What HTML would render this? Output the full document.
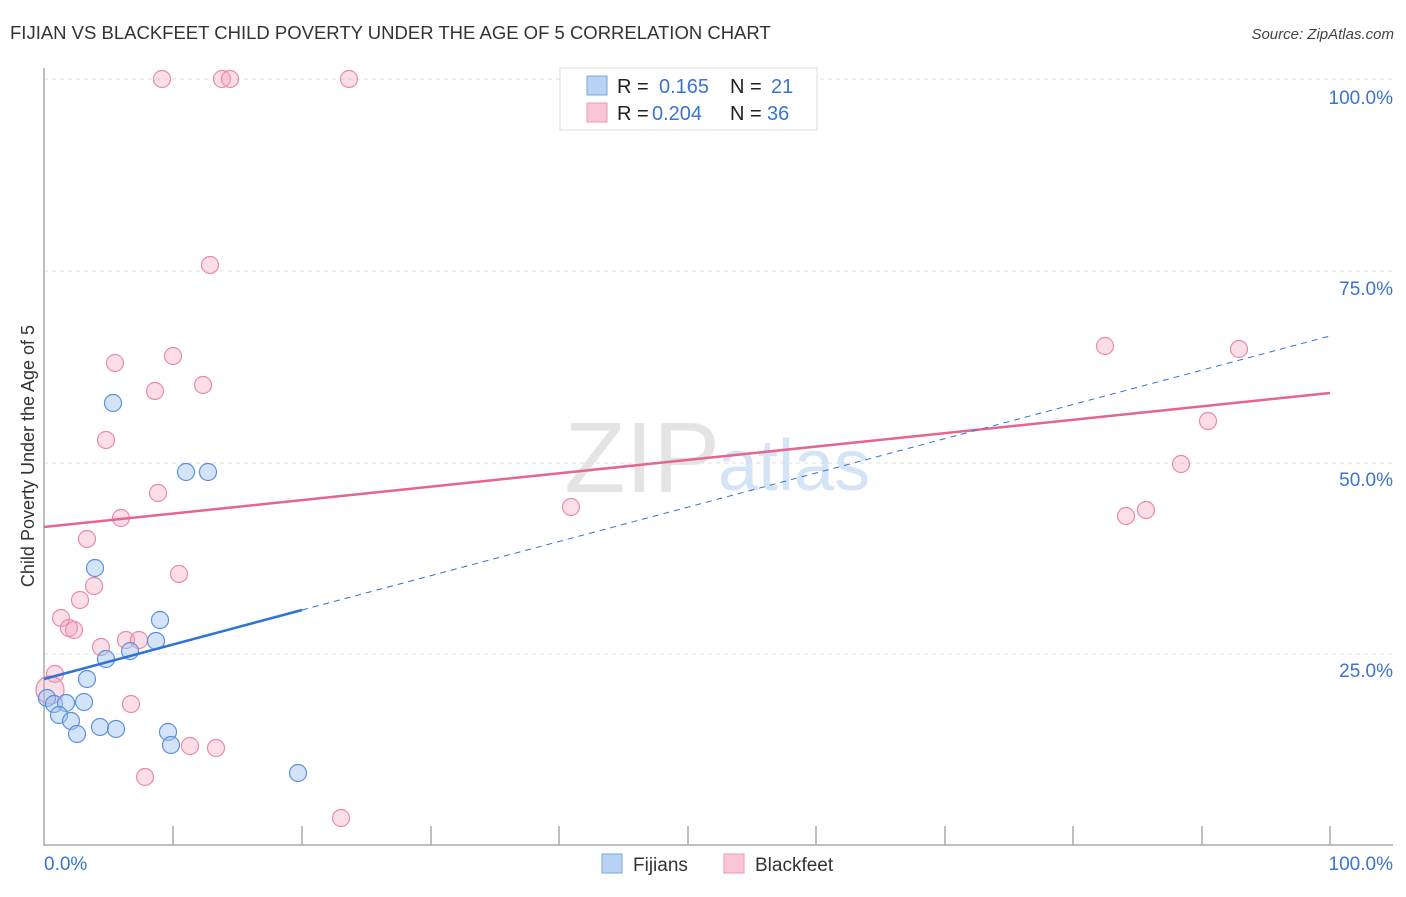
<!DOCTYPE html>
<html><head><meta charset="utf-8"><style>
body{margin:0;background:#fff;}
svg text{font-family:"Liberation Sans",sans-serif;}
</style></head><body>
<svg width="1406" height="892" xmlns="http://www.w3.org/2000/svg">
<text x="10" y="39" font-size="18.5" fill="#333">FIJIAN VS BLACKFEET CHILD POVERTY UNDER THE AGE OF 5 CORRELATION CHART</text>
<text x="1394" y="39" font-size="15" fill="#444" text-anchor="end" font-style="italic">Source: ZipAtlas.com</text>
<g stroke="#ddd" stroke-dasharray="4,4" stroke-width="1">
<line x1="44" y1="79" x2="1393" y2="79"/><line x1="44" y1="271" x2="1393" y2="271"/>
<line x1="44" y1="463" x2="1393" y2="463"/><line x1="44" y1="654" x2="1393" y2="654"/>
</g>
<text x="720" y="492" font-size="100" fill="#e4e4e4" text-anchor="end" font-family="Liberation Serif">ZIP</text>
<text x="718" y="490" font-size="72" fill="#d4e3f5">atlas</text>
<g stroke="#aaa" stroke-width="1.5" fill="none">
<line x1="44" y1="68" x2="44" y2="846"/><line x1="44" y1="845" x2="1393" y2="845"/>
<path d="M173 826V845M302 826V845M431 826V845M559 826V845M688 826V845M816 826V845M945 826V845M1073 826V845M1202 826V845M1330 826V845"/>
</g>
<g font-size="19" fill="#3b73d0">
<text x="1393" y="104" text-anchor="end">100.0%</text><text x="1393" y="295" text-anchor="end">75.0%</text>
<text x="1393" y="486" text-anchor="end">50.0%</text><text x="1393" y="677" text-anchor="end">25.0%</text>
<text x="44" y="870">0.0%</text><text x="1393" y="870" text-anchor="end">100.0%</text>
</g>
<text transform="translate(34,456) rotate(-90)" font-size="18" fill="#333" text-anchor="middle">Child Poverty Under the Age of 5</text>
<g fill="rgba(244,160,186,0.35)" stroke="#e98aa8" stroke-width="1.2">
<circle cx="162" cy="79" r="8.5"/><circle cx="222" cy="79" r="8.5"/><circle cx="230" cy="79" r="8.5"/><circle cx="349" cy="79" r="8.5"/><circle cx="210" cy="265" r="8.5"/><circle cx="115" cy="363" r="8.5"/><circle cx="173" cy="356" r="8.5"/><circle cx="155" cy="391" r="8.5"/><circle cx="203" cy="385" r="8.5"/><circle cx="106" cy="440" r="8.5"/><circle cx="158" cy="493" r="8.5"/><circle cx="121" cy="518" r="8.5"/><circle cx="87" cy="539" r="8.5"/><circle cx="179" cy="574" r="8.5"/><circle cx="94" cy="586" r="8.5"/><circle cx="80" cy="600" r="8.5"/><circle cx="61" cy="618" r="8.5"/><circle cx="69" cy="628" r="8.5"/><circle cx="74" cy="630" r="8.5"/><circle cx="101" cy="647" r="8.5"/><circle cx="126" cy="640" r="8.5"/><circle cx="139" cy="640" r="8.5"/><circle cx="55" cy="674" r="8.5"/><circle cx="50" cy="690" r="14"/><circle cx="131" cy="704" r="8.5"/><circle cx="145" cy="777" r="8.5"/><circle cx="190" cy="746" r="8.5"/><circle cx="216" cy="748" r="8.5"/><circle cx="341" cy="818" r="8.5"/><circle cx="571" cy="507" r="8.5"/><circle cx="1105" cy="346" r="8.5"/><circle cx="1239" cy="349" r="8.5"/><circle cx="1208" cy="421" r="8.5"/><circle cx="1181" cy="464" r="8.5"/><circle cx="1126" cy="516" r="8.5"/><circle cx="1146" cy="510" r="8.5"/>
</g>
<g fill="rgba(160,195,240,0.45)" stroke="#5b8fdb" stroke-width="1.2">
<circle cx="113" cy="403" r="8.5"/><circle cx="186" cy="472" r="8.5"/><circle cx="208" cy="472" r="8.5"/><circle cx="95" cy="568" r="8.5"/><circle cx="160" cy="620" r="8.5"/><circle cx="156" cy="641" r="8.5"/><circle cx="130" cy="651" r="8.5"/><circle cx="106" cy="659" r="8.5"/><circle cx="87" cy="679" r="8.5"/><circle cx="47" cy="698" r="8.5"/><circle cx="54" cy="704" r="8.5"/><circle cx="66" cy="703" r="8.5"/><circle cx="84" cy="702" r="8.5"/><circle cx="59" cy="715" r="8.5"/><circle cx="71" cy="721" r="8.5"/><circle cx="77" cy="734" r="8.5"/><circle cx="100" cy="727" r="8.5"/><circle cx="116" cy="729" r="8.5"/><circle cx="168" cy="732" r="8.5"/><circle cx="171" cy="745" r="8.5"/><circle cx="298" cy="773" r="8.5"/>
</g>
<line x1="44" y1="527" x2="1330" y2="393" stroke="#e5658e" stroke-width="2.5"/>
<line x1="302" y1="610" x2="1330" y2="336" stroke="#2f73d6" stroke-width="1" stroke-dasharray="6,5"/>
<line x1="44" y1="679" x2="302" y2="610" stroke="#2f73d6" stroke-width="2.5"/>
<rect x="560" y="68" width="257" height="62" fill="#fff" stroke="#ddd"/>
<rect x="587" y="76" width="20" height="19" fill="#b9d3f5" stroke="#7aa5e0"/>
<rect x="587" y="103" width="20" height="19" fill="#fac6d5" stroke="#ee9ab5"/>
<g font-size="20"><text x="617" y="93" fill="#222">R =</text><text x="659" y="93" fill="#3b73d0">0.165</text>
<text x="730" y="93" fill="#222">N =</text><text x="771" y="93" fill="#3b73d0">21</text>
<text x="617" y="120" fill="#222">R =</text><text x="652" y="120" fill="#3b73d0">0.204</text>
<text x="730" y="120" fill="#222">N =</text><text x="767" y="120" fill="#3b73d0">36</text></g>
<rect x="602" y="854" width="20" height="19" fill="#b9d3f5" stroke="#7aa5e0"/>
<text x="633" y="871" font-size="19" fill="#333">Fijians</text>
<rect x="724" y="854" width="20" height="19" fill="#fac6d5" stroke="#ee9ab5"/>
<text x="755" y="871" font-size="19" fill="#333">Blackfeet</text>
</svg>
</body></html>
